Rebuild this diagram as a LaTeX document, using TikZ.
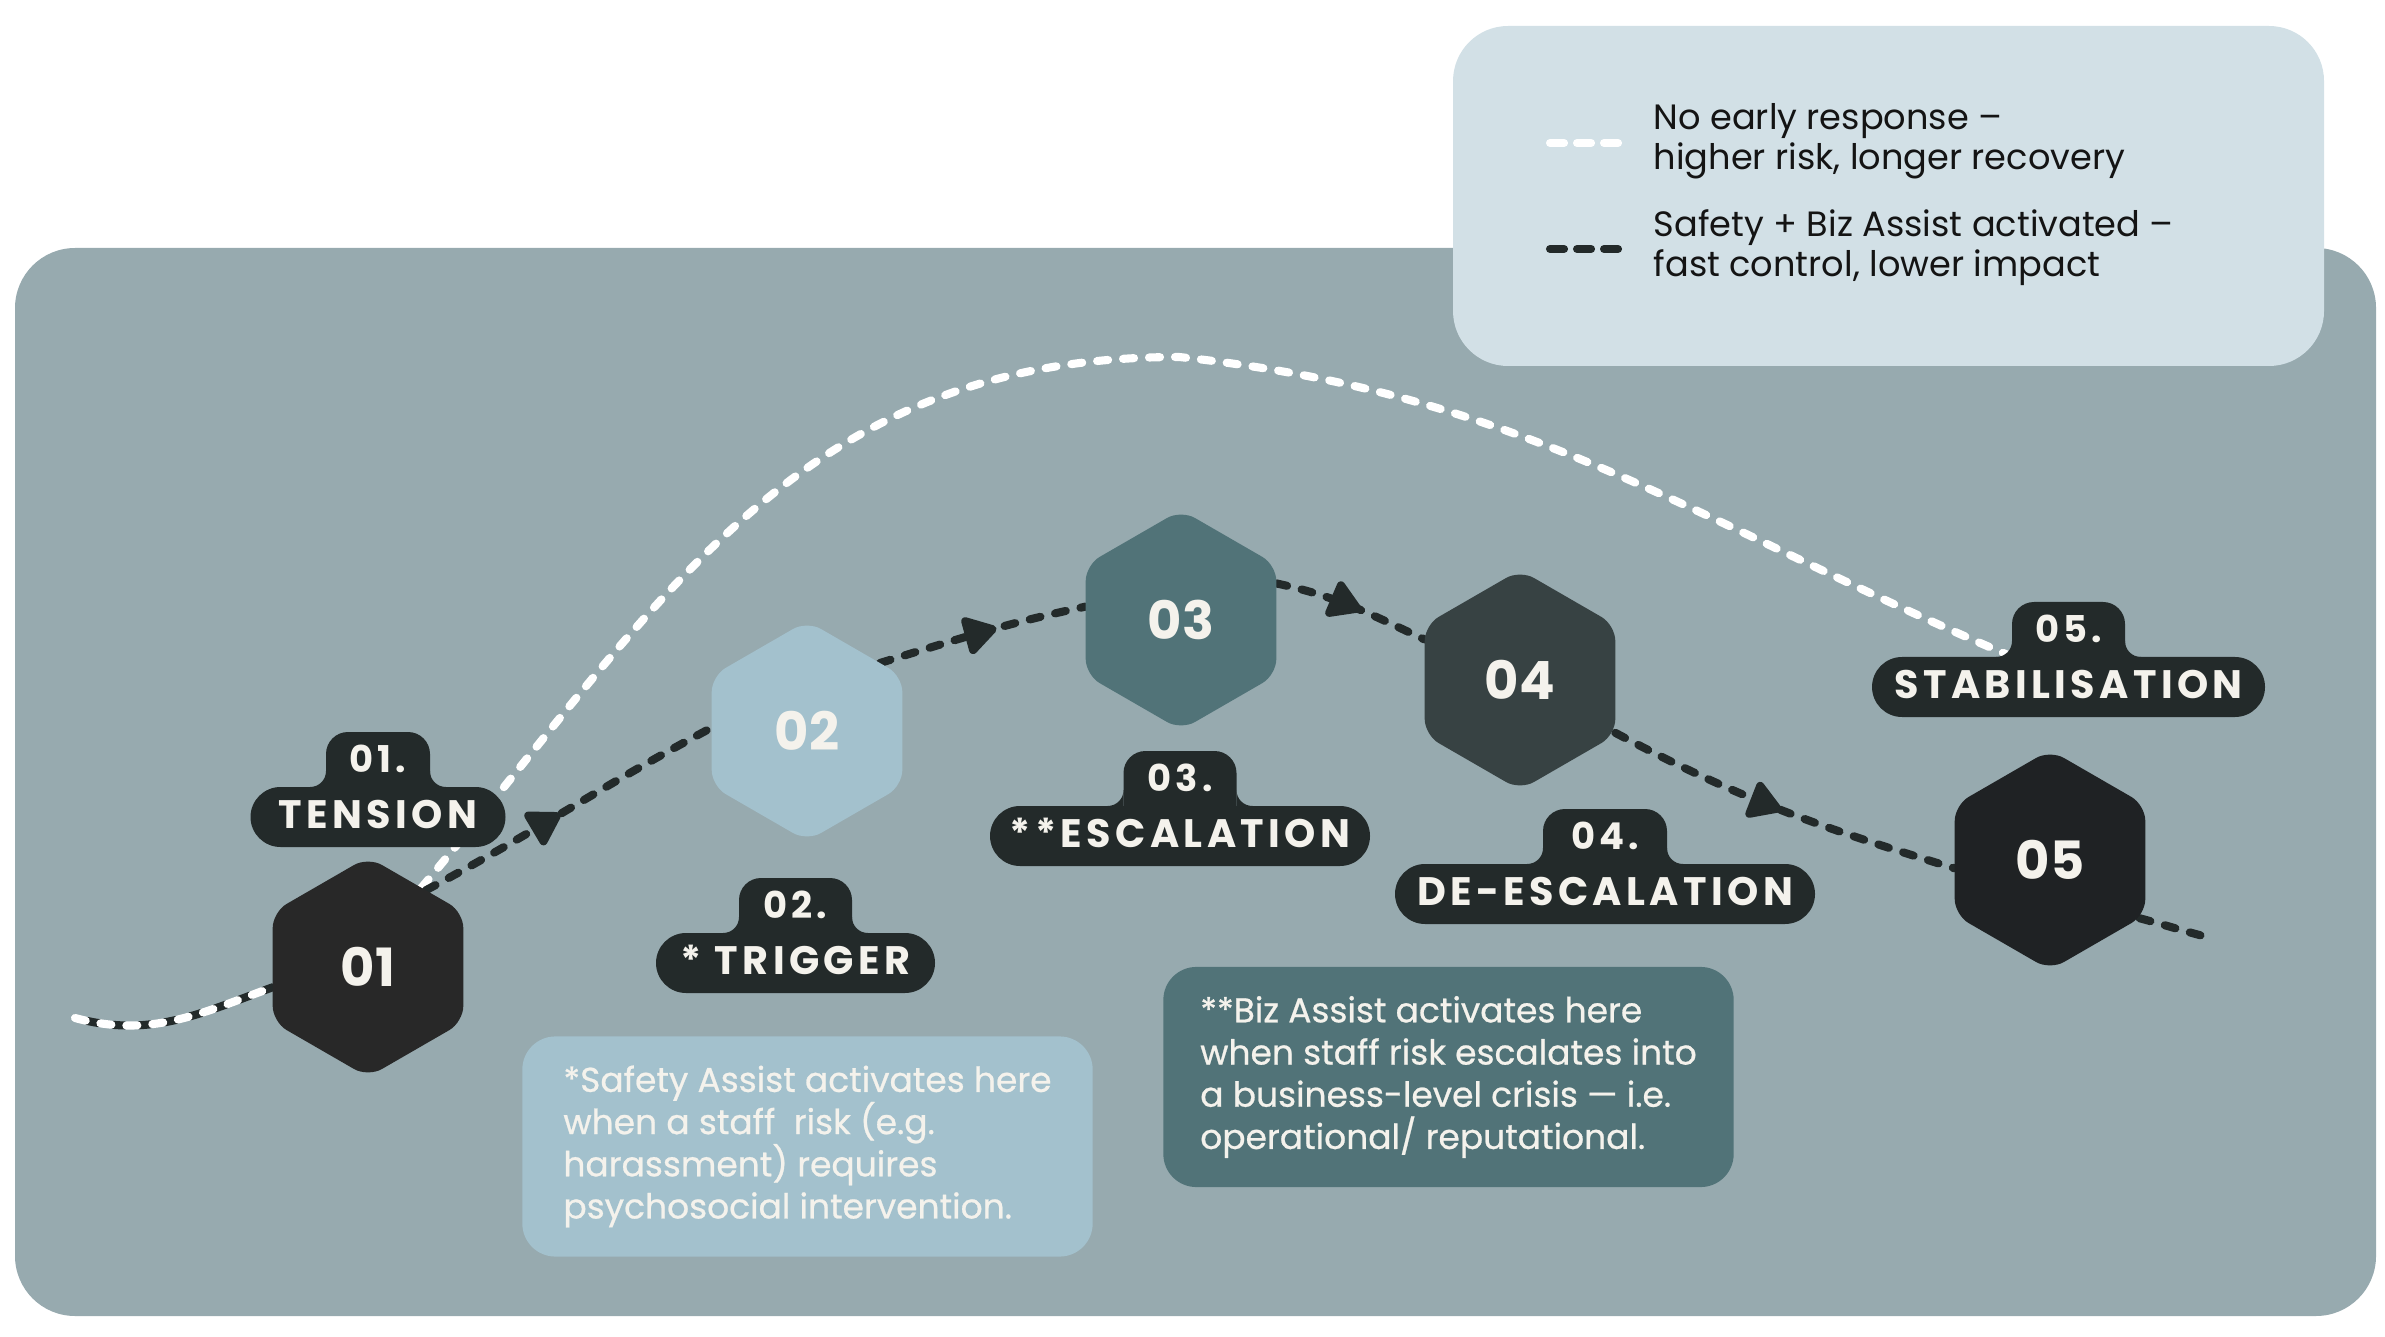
\documentclass[tikz,border=0pt]{standalone}
\usepackage{fontspec}
\setmainfont{Poppins}
\newfontfamily\tagfont{Poppins}[LetterSpace=11]
\newfontfamily\notefont{Poppins}[FakeBold=0.7]
\usepackage{tikz}
\usetikzlibrary{shapes.geometric, arrows.meta, decorations.markings, positioning}
\definecolor{panelgrey}{HTML}{97AAAF}
\definecolor{legendblue}{HTML}{D2E0E6}
\definecolor{tagdark}{HTML}{232A2A}
\definecolor{hexone}{HTML}{282828}
\definecolor{hextwo}{HTML}{A3C1CD}
\definecolor{hexthree}{HTML}{517378}
\definecolor{hexfour}{HTML}{374243}
\definecolor{hexfive}{HTML}{1F2224}
\definecolor{offwhite}{HTML}{F4F2EC}
\definecolor{inkblack}{HTML}{141414}
\pgfdeclarelayer{background}
\pgfdeclarelayer{lines}
\pgfsetlayers{background,lines,main}
% tag: name, centre x, pill top, pill half width, tab half width, number, title
\newcommand{\stagetag}[7]{%
	\fill[tagdark, rounded corners=0.3cm] ({#2-#4},#3) rectangle ({#2+#4},{#3+60});
	\fill[tagdark, rounded corners=0.22cm] ({#2-#5},{#3+30}) rectangle ({#2+#5},{#3-55});
	\fill[tagdark] ({#2-#5},#3) -- ({#2-#5},{#3-16}) .. controls ({#2-#5},{#3-7}) and ({#2-#5-7},#3) .. ({#2-#5-16},#3) -- cycle;
	\fill[tagdark] ({#2+#5},#3) -- ({#2+#5},{#3-16}) .. controls ({#2+#5},{#3-7}) and ({#2+#5+7},#3) .. ({#2+#5+16},#3) -- cycle;
	\node[tagnum] (#1num) at (#2,{#3-28}) {#6};
	\node[tagname] (#1) at (#2,{#3+27}) {#7};
}

\begin{document}
\begin{tikzpicture}[x=0.01cm, y=-0.01cm,
	hexnode/.style={regular polygon, regular polygon sides=6, shape border rotate=30, minimum size=2.2cm, inner sep=0pt, outer sep=0pt, rounded corners=0.16cm, text=offwhite, font=\bfseries\fontsize{15}{15}\selectfont},
	tagname/.style={text=offwhite, inner sep=0pt, font=\tagfont\bfseries\fontsize{11.3}{12}\selectfont},
	tagnum/.style={text=offwhite, inner sep=0pt, font=\tagfont\bfseries\fontsize{10.5}{12}\selectfont},
	notebox/.style={rounded corners=0.33cm, minimum width=5.7cm, minimum height=2.2cm, inner sep=0pt, align=left, text=offwhite, font=\notefont\fontsize{9.8}{12}\selectfont},
	legendtext/.style={anchor=north west, align=left, inner sep=0pt, text=inkblack, font=\fontsize{10}{11.4}\selectfont},
	whitedash/.style={draw=white, line width=2.3pt, line cap=round, dash pattern=on 0.11cm off 0.15cm},
	darkdash/.style={draw=tagdark, line width=2.3pt, line cap=round, dash pattern=on 0.11cm off 0.15cm},
	midarrow/.style={postaction={decorate}, decoration={markings, mark=at position #1 with {\arrow{Triangle[angle=60:0.42cm, round]}}}},
	midarrow/.default=0.5]
\useasboundingbox (0,0) rectangle (2385,1337);

% stages
\node[hexnode, fill=hexone] (h1) at (368,967) {01};
\node[hexnode, fill=hextwo] (h2) at (807,731) {02};
\node[hexnode, fill=hexthree] (h3) at (1181,620) {03};
\node[hexnode, fill=hexfour] (h4) at (1520,680) {04};
\node[hexnode, fill=hexfive] (h5) at (2050,860) {05};

\stagetag{tension}{378}{787}{127.5}{52}{01.}{TENSION}
\stagetag{trigger}{795.5}{933}{139.5}{56.5}{02.}{* TRIGGER}
\stagetag{escalation}{1180}{806}{190}{56.5}{03.}{**ESCALATION}
\stagetag{deescalation}{1605}{864}{210}{62}{04.}{DE-ESCALATION}
\stagetag{stabilisation}{2068.5}{657}{196.5}{56.5}{05.}{STABILISATION}

\node[legendtext] (lgwhite) at (1653,103) {No early response –\\higher risk, longer recovery};
\node[legendtext] (lgdark) at (1653,209) {Safety + Biz Assist activated –\\fast control, lower impact};

\coordinate (wstart) at (75,1018);
\coordinate (wpeak) at (1179,357);
\coordinate (wend) at (2015,658);
\coordinate (dend) at (2203,936);

\begin{pgfonlayer}{background}
	\fill[panelgrey, rounded corners=0.6cm] (15,248) rectangle (2376,1316);
	\fill[legendblue, rounded corners=0.55cm] (1453,26) rectangle (2324,366);
	\node[notebox, fill=hextwo] (safetynote) at (807.5,1146.5) {*Safety Assist activates here\\when a staff~ risk (e.g.\\harassment) requires\\psychosocial intervention.};
	\node[notebox, fill=hexthree] (biznote) at (1448.5,1077) {**Biz Assist activates here\\when staff risk escalates into\\a business-level crisis — i.e.\\operational/ reputational.};
\end{pgfonlayer}

\begin{pgfonlayer}{lines}
	% legend samples
	\draw[whitedash, dash pattern=on 0.14cm off 0.13cm] (1550,143) -- (1618,143);
	\draw[darkdash, dash pattern=on 0.14cm off 0.13cm] (1550,249) -- (1618,249);
	% no early response
	\draw[darkdash, dash phase=0.13cm] (wstart) to[out=-15, in=200] (h1.192);
	\draw[whitedash] (wstart) to[out=-15, in=200] (h1.192);
	\draw[whitedash] (h1.56) to[out=50, in=180, looseness=1.05] (wpeak) to[out=-6, in=157] (wend);
	% assist activated
	\draw[darkdash, midarrow=0.47] (h1.53) to[out=28, in=208] (h2.178);
	\draw[darkdash, midarrow=0.57] (h2.43) to[out=17, in=192] (h3.172);
	\draw[darkdash, midarrow=0.56] (h3.21) to[out=-12, in=155] (h4.157);
	\draw[darkdash, midarrow=0.5] (h4.331) to[out=-28, in=163] (h5.185);
	\draw[darkdash] (h5.327) to[out=-15, in=165] (dend);
\end{pgfonlayer}
\end{tikzpicture}
\end{document}
